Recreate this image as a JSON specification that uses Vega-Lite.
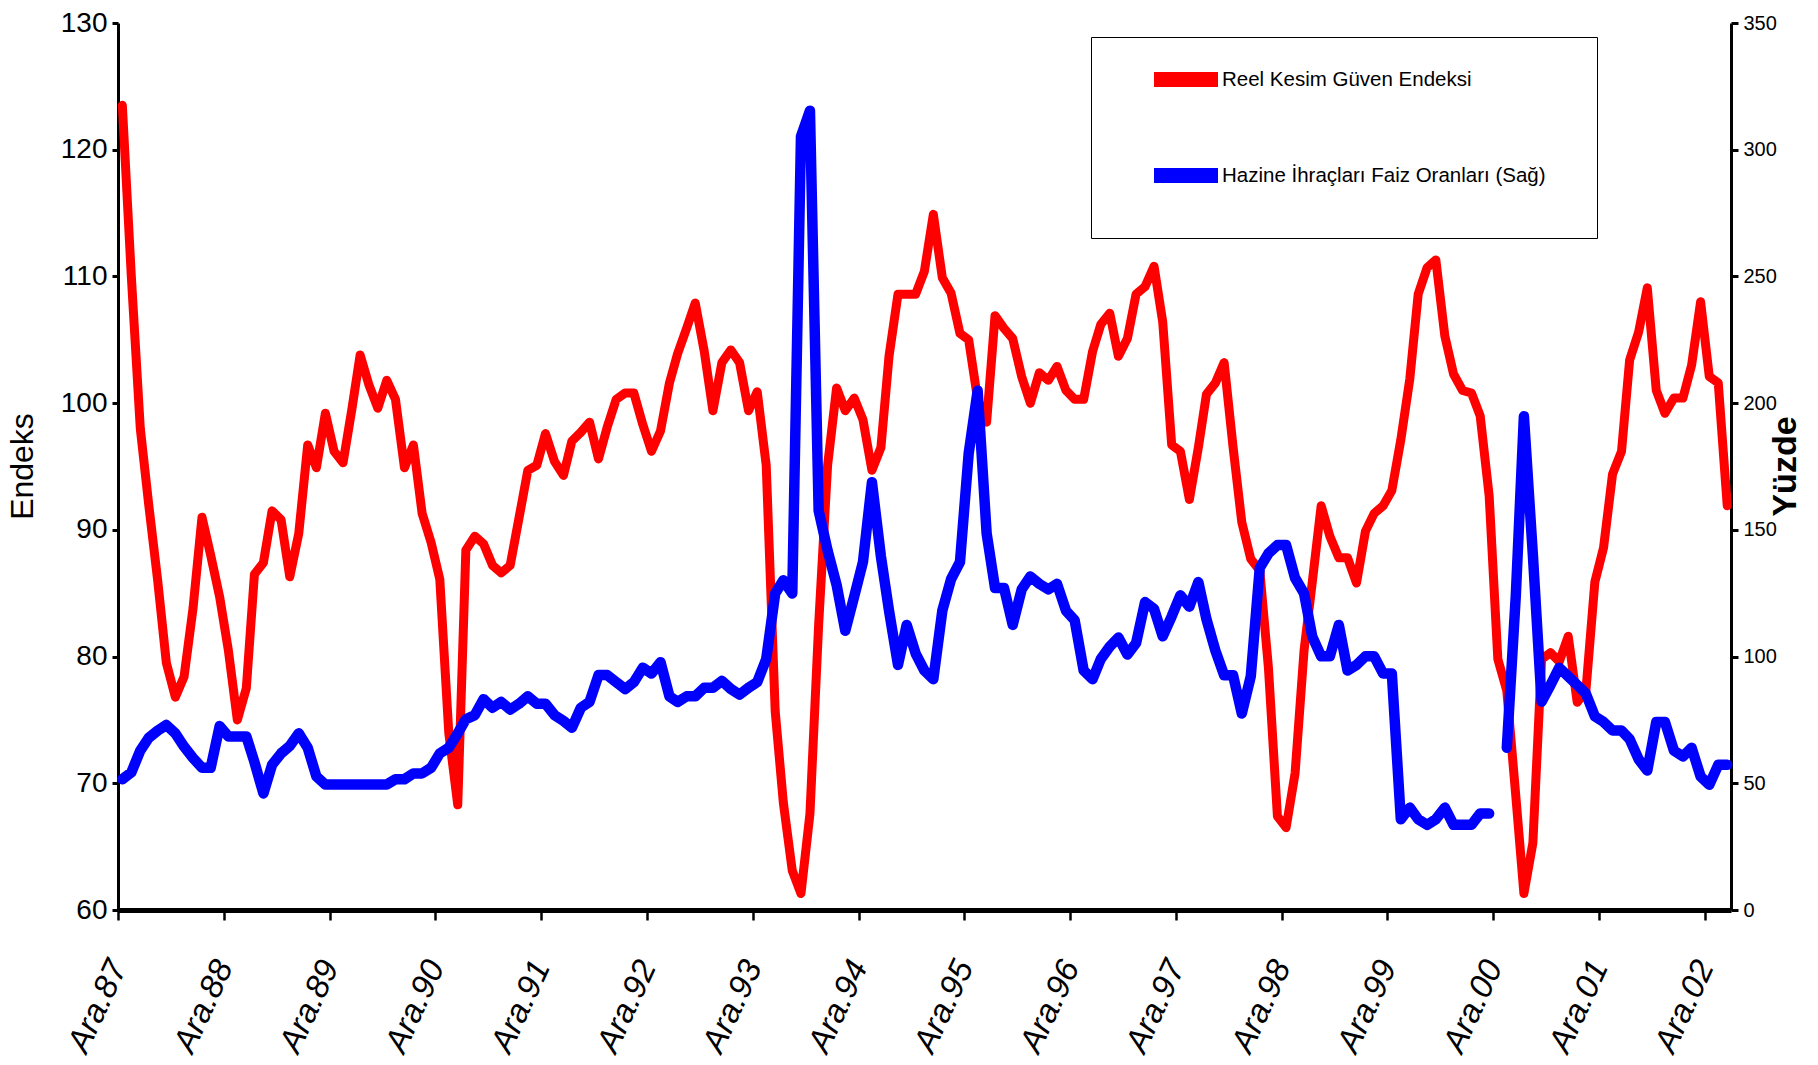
{
"$schema": "https://vega.github.io/schema/vega-lite/v6.json",
"width": 1613, "height": 887,
"autosize": "none",
"padding": {"left": 118, "top": 23, "right": 87, "bottom": 155},
"background": "white",
"config": {"view": {"stroke": null}, "axis": {"grid": false}},
"data": {"values": [
{"tarih":"1987-12-16","endeks":123.5,"faiz":51.6},
{"tarih":"1988-01-16","endeks":110,"faiz":54.3},
{"tarih":"1988-02-16","endeks":98,"faiz":62.9},
{"tarih":"1988-03-16","endeks":92,"faiz":67.9},
{"tarih":"1988-04-16","endeks":86,"faiz":70.8},
{"tarih":"1988-05-16","endeks":79.5,"faiz":73},
{"tarih":"1988-06-16","endeks":76.8,"faiz":69.7},
{"tarih":"1988-07-16","endeks":78.4,"faiz":64.5},
{"tarih":"1988-08-16","endeks":83.8,"faiz":60},
{"tarih":"1988-09-16","endeks":91,"faiz":56.1},
{"tarih":"1988-10-16","endeks":88,"faiz":56.1},
{"tarih":"1988-11-16","endeks":84.7,"faiz":72.6},
{"tarih":"1988-12-16","endeks":80.5,"faiz":68.5},
{"tarih":"1989-01-16","endeks":75,"faiz":68.5},
{"tarih":"1989-02-16","endeks":77.5,"faiz":68.5},
{"tarih":"1989-03-16","endeks":86.5,"faiz":58.4},
{"tarih":"1989-04-16","endeks":87.4,"faiz":46},
{"tarih":"1989-05-16","endeks":91.5,"faiz":57.3},
{"tarih":"1989-06-16","endeks":90.8,"faiz":61.8},
{"tarih":"1989-07-16","endeks":86.3,"faiz":64.7},
{"tarih":"1989-08-16","endeks":89.7,"faiz":69.7},
{"tarih":"1989-09-16","endeks":96.7,"faiz":64},
{"tarih":"1989-10-16","endeks":94.9,"faiz":52.7},
{"tarih":"1989-11-16","endeks":99.2,"faiz":49.5},
{"tarih":"1989-12-16","endeks":96.2,"faiz":49.5},
{"tarih":"1990-01-16","endeks":95.3,"faiz":49.5},
{"tarih":"1990-02-16","endeks":99.6,"faiz":49.5},
{"tarih":"1990-03-16","endeks":103.8,"faiz":49.5},
{"tarih":"1990-04-16","endeks":101.4,"faiz":49.5},
{"tarih":"1990-05-16","endeks":99.6,"faiz":49.5},
{"tarih":"1990-06-16","endeks":101.8,"faiz":49.5},
{"tarih":"1990-07-16","endeks":100.3,"faiz":51.6},
{"tarih":"1990-08-16","endeks":94.9,"faiz":51.6},
{"tarih":"1990-09-16","endeks":96.7,"faiz":53.9},
{"tarih":"1990-10-16","endeks":91.3,"faiz":53.9},
{"tarih":"1990-11-16","endeks":89,"faiz":56.1},
{"tarih":"1990-12-16","endeks":86.1,"faiz":61.8},
{"tarih":"1991-01-16","endeks":74,"faiz":64},
{"tarih":"1991-02-16","endeks":68.3,"faiz":69.7},
{"tarih":"1991-03-16","endeks":88.4,"faiz":75.3},
{"tarih":"1991-04-16","endeks":89.5,"faiz":76.9},
{"tarih":"1991-05-16","endeks":88.9,"faiz":83.2},
{"tarih":"1991-06-16","endeks":87.2,"faiz":79.8},
{"tarih":"1991-07-16","endeks":86.6,"faiz":82.1},
{"tarih":"1991-08-16","endeks":87.2,"faiz":79.1},
{"tarih":"1991-09-16","endeks":91,"faiz":81.4},
{"tarih":"1991-10-16","endeks":94.7,"faiz":84.3},
{"tarih":"1991-11-16","endeks":95.1,"faiz":81.4},
{"tarih":"1991-12-16","endeks":97.6,"faiz":81.4},
{"tarih":"1992-01-16","endeks":95.4,"faiz":76.9},
{"tarih":"1992-02-16","endeks":94.3,"faiz":74.6},
{"tarih":"1992-03-16","endeks":97,"faiz":71.9},
{"tarih":"1992-04-16","endeks":97.7,"faiz":79.8},
{"tarih":"1992-05-16","endeks":98.5,"faiz":82.1},
{"tarih":"1992-06-16","endeks":95.6,"faiz":92.7},
{"tarih":"1992-07-16","endeks":98.1,"faiz":92.7},
{"tarih":"1992-08-16","endeks":100.3,"faiz":89.9},
{"tarih":"1992-09-16","endeks":100.8,"faiz":87.2},
{"tarih":"1992-10-16","endeks":100.8,"faiz":89.9},
{"tarih":"1992-11-16","endeks":98.3,"faiz":95.6},
{"tarih":"1992-12-16","endeks":96.2,"faiz":93.3},
{"tarih":"1993-01-16","endeks":97.8,"faiz":97.8},
{"tarih":"1993-02-16","endeks":101.6,"faiz":84.3},
{"tarih":"1993-03-16","endeks":103.9,"faiz":82.1},
{"tarih":"1993-04-16","endeks":105.9,"faiz":84.3},
{"tarih":"1993-05-16","endeks":107.9,"faiz":84.3},
{"tarih":"1993-06-16","endeks":104.1,"faiz":87.7},
{"tarih":"1993-07-16","endeks":99.4,"faiz":87.7},
{"tarih":"1993-08-16","endeks":103.2,"faiz":90.4},
{"tarih":"1993-09-16","endeks":104.2,"faiz":87.2},
{"tarih":"1993-10-16","endeks":103.2,"faiz":85},
{"tarih":"1993-11-16","endeks":99.4,"faiz":87.7},
{"tarih":"1993-12-16","endeks":100.9,"faiz":89.9},
{"tarih":"1994-01-16","endeks":95.1,"faiz":99},
{"tarih":"1994-02-16","endeks":75.7,"faiz":124.9},
{"tarih":"1994-03-16","endeks":68.5,"faiz":130.1},
{"tarih":"1994-04-16","endeks":63.1,"faiz":124.9},
{"tarih":"1994-05-16","endeks":61.3,"faiz":305.2},
{"tarih":"1994-06-16","endeks":67.6,"faiz":315.4},
{"tarih":"1994-07-16","endeks":82.5,"faiz":157.6},
{"tarih":"1994-08-16","endeks":95.1,"faiz":141.8},
{"tarih":"1994-09-16","endeks":101.2,"faiz":128.3},
{"tarih":"1994-10-16","endeks":99.4,"faiz":110.2},
{"tarih":"1994-11-16","endeks":100.4,"faiz":123.8},
{"tarih":"1994-12-16","endeks":98.7,"faiz":137.3},
{"tarih":"1995-01-16","endeks":94.7,"faiz":168.8},
{"tarih":"1995-02-16","endeks":96.5,"faiz":139.5},
{"tarih":"1995-03-16","endeks":103.7,"faiz":118.1},
{"tarih":"1995-04-16","endeks":108.6,"faiz":96.7},
{"tarih":"1995-05-16","endeks":108.6,"faiz":112.5},
{"tarih":"1995-06-16","endeks":108.6,"faiz":101.2},
{"tarih":"1995-07-16","endeks":110.4,"faiz":94.5},
{"tarih":"1995-08-16","endeks":114.9,"faiz":91.1},
{"tarih":"1995-09-16","endeks":109.9,"faiz":118.1},
{"tarih":"1995-10-16","endeks":108.7,"faiz":130.5},
{"tarih":"1995-11-16","endeks":105.5,"faiz":137.3},
{"tarih":"1995-12-16","endeks":105,"faiz":180.1},
{"tarih":"1996-01-16","endeks":100.3,"faiz":204.9},
{"tarih":"1996-02-16","endeks":98.5,"faiz":148.6},
{"tarih":"1996-03-16","endeks":106.9,"faiz":127.1},
{"tarih":"1996-04-16","endeks":105.9,"faiz":127.1},
{"tarih":"1996-05-16","endeks":105.1,"faiz":112.5},
{"tarih":"1996-06-16","endeks":102.1,"faiz":126.5},
{"tarih":"1996-07-16","endeks":100,"faiz":131.6},
{"tarih":"1996-08-16","endeks":102.4,"faiz":128.7},
{"tarih":"1996-09-16","endeks":101.8,"faiz":126.5},
{"tarih":"1996-10-16","endeks":102.9,"faiz":128.7},
{"tarih":"1996-11-16","endeks":101,"faiz":118.1},
{"tarih":"1996-12-16","endeks":100.3,"faiz":114.3},
{"tarih":"1997-01-16","endeks":100.3,"faiz":94.5},
{"tarih":"1997-02-16","endeks":104.1,"faiz":91.1},
{"tarih":"1997-03-16","endeks":106.2,"faiz":99},
{"tarih":"1997-04-16","endeks":107.1,"faiz":103.9},
{"tarih":"1997-05-16","endeks":103.7,"faiz":107.5},
{"tarih":"1997-06-16","endeks":105.1,"faiz":100.8},
{"tarih":"1997-07-16","endeks":108.6,"faiz":105.3},
{"tarih":"1997-08-16","endeks":109.2,"faiz":121.5},
{"tarih":"1997-09-16","endeks":110.8,"faiz":118.8},
{"tarih":"1997-10-16","endeks":106.4,"faiz":108},
{"tarih":"1997-11-16","endeks":96.7,"faiz":115.9},
{"tarih":"1997-12-16","endeks":96.2,"faiz":124.2},
{"tarih":"1998-01-16","endeks":92.4,"faiz":119.7},
{"tarih":"1998-02-16","endeks":96.5,"faiz":129.4},
{"tarih":"1998-03-16","endeks":100.7,"faiz":114.7},
{"tarih":"1998-04-16","endeks":101.6,"faiz":102.3},
{"tarih":"1998-05-16","endeks":103.2,"faiz":92.6},
{"tarih":"1998-06-16","endeks":96.5,"faiz":92.6},
{"tarih":"1998-07-16","endeks":90.6,"faiz":77.5},
{"tarih":"1998-08-16","endeks":87.7,"faiz":92.2},
{"tarih":"1998-09-16","endeks":86.8,"faiz":135},
{"tarih":"1998-10-16","endeks":79.1,"faiz":140.7},
{"tarih":"1998-11-16","endeks":67.4,"faiz":144},
{"tarih":"1998-12-16","endeks":66.5,"faiz":144},
{"tarih":"1999-01-16","endeks":70.8,"faiz":131},
{"tarih":"1999-02-16","endeks":80.5,"faiz":124.9},
{"tarih":"1999-03-16","endeks":85.8,"faiz":108},
{"tarih":"1999-04-16","endeks":91.9,"faiz":100.1},
{"tarih":"1999-05-16","endeks":89.5,"faiz":100.1},
{"tarih":"1999-06-16","endeks":87.8,"faiz":112.5},
{"tarih":"1999-07-16","endeks":87.8,"faiz":94.5},
{"tarih":"1999-08-16","endeks":85.8,"faiz":96.7},
{"tarih":"1999-09-16","endeks":89.9,"faiz":100.1},
{"tarih":"1999-10-16","endeks":91.3,"faiz":100.1},
{"tarih":"1999-11-16","endeks":91.9,"faiz":93.3},
{"tarih":"1999-12-16","endeks":93.1,"faiz":93.3},
{"tarih":"2000-01-16","endeks":97.1,"faiz":35.8},
{"tarih":"2000-02-16","endeks":101.9,"faiz":40.4},
{"tarih":"2000-03-16","endeks":108.6,"faiz":35.8},
{"tarih":"2000-04-16","endeks":110.7,"faiz":33.6},
{"tarih":"2000-05-16","endeks":111.3,"faiz":35.8},
{"tarih":"2000-06-16","endeks":105.3,"faiz":40.4},
{"tarih":"2000-07-16","endeks":102.3,"faiz":33.6},
{"tarih":"2000-08-16","endeks":101,"faiz":33.6},
{"tarih":"2000-09-16","endeks":100.8,"faiz":33.6},
{"tarih":"2000-10-16","endeks":99,"faiz":38.1},
{"tarih":"2000-11-16","endeks":92.7,"faiz":38.1},
{"tarih":"2000-12-16","endeks":79.8,"faiz":null},
{"tarih":"2001-01-16","endeks":77.3,"faiz":64},
{"tarih":"2001-02-16","endeks":69,"faiz":124},
{"tarih":"2001-03-16","endeks":61.3,"faiz":194.8},
{"tarih":"2001-04-16","endeks":65.3,"faiz":140},
{"tarih":"2001-05-16","endeks":79.8,"faiz":82.2},
{"tarih":"2001-06-16","endeks":80.3,"faiz":88.8},
{"tarih":"2001-07-16","endeks":79.6,"faiz":95.6},
{"tarih":"2001-08-16","endeks":81.6,"faiz":92.2},
{"tarih":"2001-09-16","endeks":76.4,"faiz":88.8},
{"tarih":"2001-10-16","endeks":77.3,"faiz":85.4},
{"tarih":"2001-11-16","endeks":85.9,"faiz":76.4},
{"tarih":"2001-12-16","endeks":88.6,"faiz":74.2},
{"tarih":"2002-01-16","endeks":94.4,"faiz":70.8},
{"tarih":"2002-02-16","endeks":96.2,"faiz":70.8},
{"tarih":"2002-03-16","endeks":103.4,"faiz":67.4},
{"tarih":"2002-04-16","endeks":105.6,"faiz":59.5},
{"tarih":"2002-05-16","endeks":109.1,"faiz":55},
{"tarih":"2002-06-16","endeks":101,"faiz":74.2},
{"tarih":"2002-07-16","endeks":99.2,"faiz":74.2},
{"tarih":"2002-08-16","endeks":100.4,"faiz":62.9},
{"tarih":"2002-09-16","endeks":100.4,"faiz":60.6},
{"tarih":"2002-10-16","endeks":103,"faiz":64},
{"tarih":"2002-11-16","endeks":108,"faiz":52.7},
{"tarih":"2002-12-16","endeks":102.1,"faiz":49.4},
{"tarih":"2003-01-16","endeks":101.6,"faiz":57.3},
{"tarih":"2003-02-16","endeks":91.9,"faiz":57.3}
]},
"layer": [
{
"mark": {"type": "line", "strokeWidth": 9, "strokeJoin": "round", "strokeCap": "round"},
"encoding": {
"x": {"field": "tarih", "type": "temporal",
"scale": {"type": "utc", "nice": false, "domain": [{"year": 1987, "month": 12, "date": 1, "utc": true}, {"year": 2003, "month": 3, "date": 1, "utc": true}]},
"axis": {"title": null,
"values": [{"year":1987,"month":12,"date":1,"utc":true},{"year":1988,"month":12,"date":1,"utc":true},{"year":1989,"month":12,"date":1,"utc":true},{"year":1990,"month":12,"date":1,"utc":true},{"year":1991,"month":12,"date":1,"utc":true},{"year":1992,"month":12,"date":1,"utc":true},{"year":1993,"month":12,"date":1,"utc":true},{"year":1994,"month":12,"date":1,"utc":true},{"year":1995,"month":12,"date":1,"utc":true},{"year":1996,"month":12,"date":1,"utc":true},{"year":1997,"month":12,"date":1,"utc":true},{"year":1998,"month":12,"date":1,"utc":true},{"year":1999,"month":12,"date":1,"utc":true},{"year":2000,"month":12,"date":1,"utc":true},{"year":2001,"month":12,"date":1,"utc":true},{"year":2002,"month":12,"date":1,"utc":true}],
"labelExpr": "'Ara.' + utcFormat(datum.value, '%y')",
"labelAngle": -65, "labelAlign": "right", "labelBaseline": "middle",
"labelFont": "Liberation Sans, Arial, sans-serif",
"labelFontStyle": "italic", "labelFontSize": 33, "labelColor": "black",
"labelPadding": 42, "labelFlush": false, "labelOverlap": false, "labelBound": false,
"tickColor": "black", "tickSize": 10, "tickWidth": 2.5,
"domainColor": "black", "domainWidth": 5}
},
"y": {"field": "endeks", "type": "quantitative",
"scale": {"domain": [60, 130], "nice": false, "zero": false},
"axis": {"values": [60, 70, 80, 90, 100, 110, 120, 130],
"labelFont": "Liberation Sans, Arial, sans-serif",
"labelFontSize": 28, "labelColor": "black", "labelPadding": 5,
"tickColor": "black", "tickSize": 6, "tickWidth": 3,
"domainColor": "black", "domainWidth": 3,
"title": "Endeks", "titleFont": "Liberation Sans, Arial, sans-serif", "titleFontWeight": "normal",
"titleFontSize": 32, "titleColor": "black", "titleAngle": 270,
"titleX": -96, "titleY": 443, "titleAlign": "center", "titleBaseline": "middle"}
},
"color": {"datum": "Reel Kesim Güven Endeksi", "type": "nominal",
"scale": {"domain": ["Reel Kesim Güven Endeksi", "Hazine İhraçları Faiz Oranları (Sağ)"], "range": ["#ff0000", "#0000ff"]},
"legend": {"orient": "none", "legendX": 973, "legendY": 14,
"title": ["\u2800", "\u2800", "\u2800"],
"titleOrient": "right", "titleFontSize": 60.5, "titleLineHeight": 67, "titlePadding": 0, "titleAnchor": "start", "titleBaseline": "top",
"titleFont": "DejaVu Sans, sans-serif", "titleColor": "white",
"symbolType": "stroke", "symbolSize": 4096, "symbolStrokeWidth": 15,
"labelFont": "Liberation Sans, Arial, sans-serif",
"labelFontSize": 20.5, "labelColor": "black", "labelOffset": -3.5, "labelLimit": 800,
"padding": 3, "rowPadding": 26, "symbolOffset": 52.5,
"strokeColor": "black", "fillColor": "white"}
}
}
},
{
"mark": {"type": "line", "strokeWidth": 10.5, "strokeJoin": "round", "strokeCap": "round", "invalid": "break-paths-show-domains"},
"encoding": {
"x": {"field": "tarih", "type": "temporal"},
"y": {"field": "faiz", "type": "quantitative",
"scale": {"domain": [0, 350], "nice": false},
"axis": {"orient": "right", "values": [0, 50, 100, 150, 200, 250, 300, 350],
"labelFont": "Liberation Sans, Arial, sans-serif",
"labelFontSize": 20, "labelColor": "black", "labelPadding": 5,
"tickColor": "black", "tickSize": 7, "tickWidth": 3,
"domainColor": "black", "domainWidth": 3,
"title": "Yüzde", "titleFont": "Liberation Sans, Arial, sans-serif", "titleFontWeight": "bold",
"titleFontSize": 34, "titleColor": "black", "titleAngle": 270,
"titleX": 54, "titleY": 443, "titleAlign": "center", "titleBaseline": "middle"}
},
"color": {"datum": "Hazine İhraçları Faiz Oranları (Sağ)", "type": "nominal"}
}
}
],
"resolve": {"scale": {"y": "independent"}}
}
